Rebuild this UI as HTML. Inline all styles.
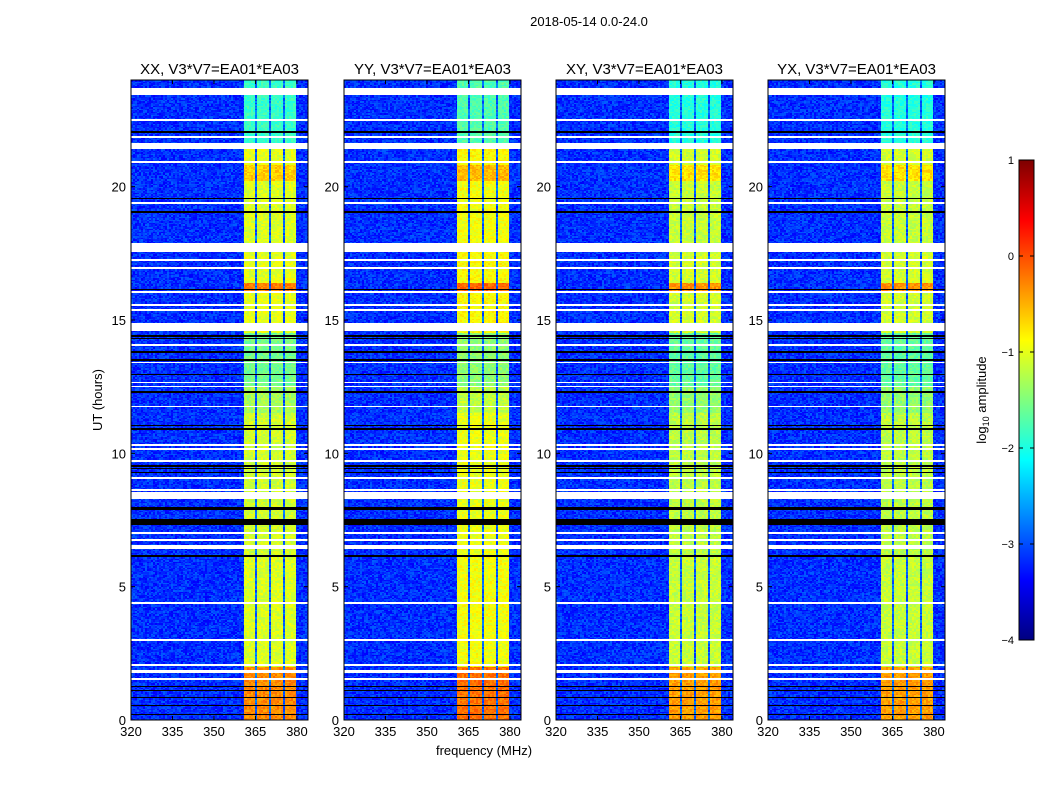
<!DOCTYPE html>
<html><head><meta charset="utf-8"><style>
body{margin:0;background:#fff;width:1050px;height:800px;overflow:hidden;position:relative;font-family:"Liberation Sans",sans-serif}
canvas{position:absolute;image-rendering:pixelated}
svg{position:absolute;left:0;top:0}
</style></head><body>
<canvas id="c0" width="177" height="640" style="left:131px;top:80px"></canvas>
<canvas id="c1" width="177" height="640" style="left:344px;top:80px"></canvas>
<canvas id="c2" width="177" height="640" style="left:556px;top:80px"></canvas>
<canvas id="c3" width="177" height="640" style="left:768px;top:80px"></canvas>
<canvas id="cb" width="15" height="480" style="left:1019px;top:160px"></canvas>
<svg id="ov" width="1050" height="800"></svg>
<script>
// ---- data ----
const panelTitles=["XX, V3*V7=EA01*EA03","YY, V3*V7=EA01*EA03","XY, V3*V7=EA01*EA03","YX, V3*V7=EA01*EA03"];
const panelLeft=[131,344,556,768];
const xTicks=[320,335,350,365,380];
const yTicks=[0,5,10,15,20];
const cbTicks=[1,0,-1,-2,-3,-4];
const background=-3.15;
const bandStart=[361,365.7,370.7,375.7];
const bandEnd=[364.8,369.8,374.8,379.5];
// hour segments [start,end,level] for the bright band
const bandSegStart=[0,2.0,6.2,11.5,12.5,14.5,16.0,16.4,17.5,20.2,20.8,21.4];
const bandSegEnd=[2.0,6.2,11.5,12.5,14.5,16.0,16.4,17.5,20.2,20.8,21.4,24];
const bandSegLevel=[-0.3,-1.05,-1.1,-1.3,-1.55,-1.0,-0.25,-1.0,-1.05,-0.65,-1.0,-1.85];
const panelOffset=[0,0.12,-0.1,-0.1];
const whiteStart=[23.45,22.47,21.83,21.4,20.9,19.36,17.55,17.23,16.93,16.03,15.53,15.35,14.6,14.03,13.38,12.48,12.63,11.73,10.28,10.13,9.68,9.05,8.6,8.3,6.98,6.73,6.4,4.36,2.98,2.04,1.75,1.51];
const whiteEnd=[23.7,22.53,21.89,21.65,20.96,19.42,17.9,17.29,16.99,16.09,15.59,15.41,14.88,14.09,13.44,12.54,12.69,11.79,10.34,10.19,9.74,9.11,8.66,8.55,7.04,6.79,6.55,4.42,3.04,2.1,1.86,1.57];
const blackStart=[22.02,19.52,19.02,16.12,14.38,14.27,13.77,13.47,12.92,12.27,10.88,11.02,9.25,9.4,9.5,7.88,7.3,6.1,1.23,1.08,0.83,0.53,0.18];
const blackEnd=[22.08,19.58,19.08,16.18,14.43,14.33,13.83,13.53,12.98,12.33,10.94,11.08,9.3,9.45,9.56,7.98,7.55,6.2,1.28,1.13,0.88,0.58,0.23];

// ---- helpers ----
const X0=320,X1=384,H0=0,H1=24,PW=177,PH=640;
const xs=f=>(f-X0)/(X1-X0)*PW;
const ys=h=>PH-(h-H0)/(H1-H0)*PH;
function jet(t){t=Math.max(0,Math.min(1,t));
 const r=Math.max(0,Math.min(1,1.5-Math.abs(4*t-3))),g=Math.max(0,Math.min(1,1.5-Math.abs(4*t-2))),b=Math.max(0,Math.min(1,1.5-Math.abs(4*t-1)));
 return [r*255|0,g*255|0,b*255|0];}
function hash(a,b,c){let h=(a*374761393+b*668265263+c*982451653)|0;h=(h^(h>>>13))*1274126177|0;return ((h^(h>>>16))>>>0)/4294967296;}
function bandLevel(h){for(let i=0;i<bandSegStart.length;i++)if(h>=bandSegStart[i]&&h<bandSegEnd[i])return bandSegLevel[i];return -1;}
function inList(h,s,e){for(let i=0;i<s.length;i++)if(h>=s[i]&&h<e[i])return true;return false;}

for(let p=0;p<4;p++){
 const cv=document.getElementById('c'+p),ctx=cv.getContext('2d');
 const img=ctx.createImageData(PW,PH);
 for(let y=0;y<PH;y++){
  const h=H0+(PH-y-0.5)/PH*(H1-H0);
  const white=inList(h,whiteStart,whiteEnd),black=inList(h,blackStart,blackEnd);
  const bl=bandLevel(h)+panelOffset[p];
  for(let x=0;x<PW;x++){
   const f=X0+(x+0.5)/PW*(X1-X0);
   let v=background;
   let inBand=false;
   for(let k=0;k<bandStart.length;k++)if(f>=bandStart[k]&&f<bandEnd[k])inBand=true;
   if(inBand)v=bl;
   else if(f>=361&&f<379.5)v=-2.9;
   const n=hash(x>>1,Math.floor(y/1.5),p)-0.5;
   v+=n*(inBand?0.35:0.5);
   let c;
   if(white)c=[255,255,255];else if(black)c=[0,0,0];else c=jet((v+4)/5);
   const i=(y*PW+x)*4;img.data[i]=c[0];img.data[i+1]=c[1];img.data[i+2]=c[2];img.data[i+3]=255;
  }
 }
 ctx.putImageData(img,0,0);
}
{const ctx=document.getElementById('cb').getContext('2d');
 for(let y=0;y<480;y++){const c=jet(1-y/480);ctx.fillStyle=`rgb(${c[0]},${c[1]},${c[2]})`;ctx.fillRect(0,y,15,1);}}

// ---- overlay ----
const NS='http://www.w3.org/2000/svg',ov=document.getElementById('ov');
function el(t,a,txt){const e=document.createElementNS(NS,t);for(const k in a)e.setAttribute(k,a[k]);if(txt!==undefined)e.textContent=txt;ov.appendChild(e);return e;}
let e;
e=el('text',{x:589,y:26,'text-anchor':'middle','font-size':13},'2018-05-14 0.0-24.0');


for(let p=0;p<4;p++){
 const L=panelLeft[p],T=80;
 e=el('rect',{x:L,y:T,width:PW,height:PH,fill:'none',stroke:'#000','stroke-width':1});
 
 
 e=el('text',{x:L+PW/2,y:74,'text-anchor':'middle','font-size':15},panelTitles[p]);
 
 
 xTicks.forEach(t=>{const x=L+xs(t);
  el('line',{x1:x,y1:T+PH,x2:x,y2:T+PH-4,stroke:'#000'});el('line',{x1:x,y1:T,x2:x,y2:T+4,stroke:'#000'});
  e=el('text',{x:x,y:T+PH+16,'text-anchor':'middle','font-size':13},String(t));
  
  });
 yTicks.forEach(t=>{const y=T+ys(t);
  el('line',{x1:L,y1:y,x2:L+4,y2:y,stroke:'#000'});el('line',{x1:L+PW,y1:y,x2:L+PW-4,y2:y,stroke:'#000'});
  e=el('text',{x:L-5,y:y+5,'text-anchor':'end','font-size':13},String(t));
  
  });
}
e=el('text',{x:484,y:755,'text-anchor':'middle','font-size':13},'frequency (MHz)');


e=el('text',{x:102,y:400,'text-anchor':'middle','font-size':13,transform:'rotate(-90 102 400)'},'UT (hours)');


e=el('rect',{x:1019,y:160,width:15,height:480,fill:'none',stroke:'#000'});


cbTicks.forEach(t=>{const y=160+(1-t)/5*480;
 el('line',{x1:1019,y1:y,x2:1023,y2:y,stroke:'#000'});el('line',{x1:1034,y1:y,x2:1030,y2:y,stroke:'#000'});
 e=el('text',{x:1014,y:y+4,'text-anchor':'end','font-size':11},t<0?'\u2212'+(-t):String(t));
 
 });
e=el('text',{x:986,y:400,'text-anchor':'middle','font-size':13,transform:'rotate(-90 986 400)'});


e.innerHTML='log<tspan font-size="9" dy="3">10</tspan><tspan dy="-3"> amplitude</tspan>';
</script>
</body></html>
